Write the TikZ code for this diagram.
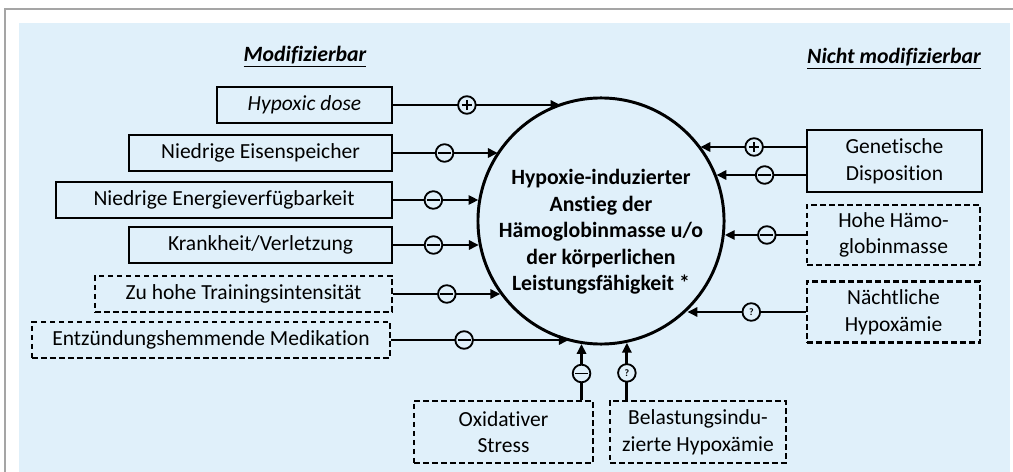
\documentclass[tikz,border=0pt]{standalone}
\usepackage{fontspec}
\setmainfont{Carlito}[Ligatures=NoCommon]
\usetikzlibrary{arrows.meta,calc}

\definecolor{bgblue}{RGB}{224,240,250}
\definecolor{framegray}{RGB}{165,165,165}

\begin{document}
\begin{tikzpicture}[x=0.025cm, y=-0.025cm,
  txt/.style={font=\fontsize{15.3}{19}\selectfont, align=center},
  box/.style={txt, draw, line width=1.9pt, inner sep=0pt, minimum height=0.9cm},
  dbox/.style={box, dash pattern=on 4pt off 2.4pt},
  hub/.style={circle, draw, line width=2.1pt, minimum size=6.15cm, inner sep=0pt},
  hubtxt/.style={font=\fontsize{15.5}{18.8}\selectfont\bfseries, align=center},
  head/.style={font=\fontsize{15.5}{18}\selectfont\bfseries\itshape},
  arr/.style={line width=2pt, -{Triangle[length=7pt,width=6.5pt]}},
  sgn/.style={circle, draw, fill=bgblue, line width=1.3pt, minimum size=0.44cm, inner sep=0pt},
  sgnm/.style={sgn, path picture={\draw[-, line width=1.3pt]
      ([xshift=-0.16cm]path picture bounding box.center) -- ([xshift=0.16cm]path picture bounding box.center);}},
  sgnp/.style={sgn, path picture={\draw[-, line width=1.3pt]
      ([xshift=-0.13cm]path picture bounding box.center) -- ([xshift=0.13cm]path picture bounding box.center)
      ([yshift=-0.13cm]path picture bounding box.center) -- ([yshift=0.13cm]path picture bounding box.center);}},
  sgnq/.style={sgn, font=\fontsize{7}{7}\selectfont\bfseries}
]
  \useasboundingbox (0,0) rectangle (1013,472);

  % Frame and background
  \fill[bgblue] (19,23) rectangle (1010,472);
  \draw[framegray, line width=1.5pt] (5,472) -- (5,9) -- (1013,9);

  % Headings
  \node[head] (modif) at (305,57) {\underline{Modifizierbar}};
  \node[head] (nmodif) at (894,59) {\underline{Nicht modifizierbar}};

  % Central circle
  \node[hub] (hub) at (601,221) {};
  \node[hubtxt] (hubtext) at (601,232) {Hypoxie-induzierter\\Anstieg der\\Hämoglobinmasse u/o\\der körperlichen\\Leistungsfähigkeit *};

  % Modifiable factors (left)
  \node[box, minimum width=4.375cm] (hypox) at (304.5,105) {\itshape Hypoxic dose};
  \node[box, minimum width=6.575cm] (eisen) at (260.5,153) {Niedrige Eisenspeicher};
  \node[box, minimum width=8.4cm] (energie) at (224,200) {Niedrige Energieverfügbarkeit};
  \node[box, minimum width=6.575cm] (krank) at (260.5,245) {Krankheit/Verletzung};
  \node[dbox, minimum width=7.425cm] (training) at (243.5,294) {Zu hohe Trainingsintensität};
  \node[dbox, minimum width=8.95cm] (medik) at (211,340) {Entzündungshemmende Medikation};

  % Non-modifiable factors (right)
  \node[box, minimum width=4.375cm, minimum height=1.55cm] (gen) at (894.5,161) {Genetische\\Disposition};
  \node[dbox, minimum width=4.325cm, minimum height=1.5cm] (hohe) at (893.5,235) {Hohe Hämo-\\globinmasse};
  \node[dbox, minimum width=4.325cm, minimum height=1.525cm] (nacht) at (893.5,312) {Nächtliche\\Hypoxämie};

  % Bottom factors
  \node[dbox, minimum width=4.475cm, minimum height=1.55cm] (oxid) at (503.5,432) {Oxidativer\\Stress};
  \node[dbox, minimum width=4.4cm, minimum height=1.55cm] (belast) at (698,432) {Belastungsindu-\\zierte Hypoxämie};

  % Arrows from the left
  \draw[arr] (hypox.east) -- node[sgnp, pos=.44] (s1) {} (hypox.east -| hub.109);
  \draw[arr] (eisen.east) -- node[sgnm, pos=.49] (s2) {} (eisen.east -| hub.146);
  \draw[arr] (energie.east) -- node[sgnm, pos=.47] (s3) {} (energie.east -| hub.170);
  \draw[arr] (krank.east) -- node[sgnm, pos=.47] (s4) {} (krank.east -| hub.191);
  \draw[arr] (training.east) -- node[sgnm, pos=.5] (s5) {} (training.east -| hub.216);
  \draw[arr] (medik.east) -- node[sgnm, pos=.41] (s6) {} (medik.east -| hub.255);

  % Arrows from the right
  \coordinate (genp) at ($(gen.west)+(0,-14)$);
  \coordinate (genm) at ($(gen.west)+(0,14)$);
  \draw[arr] (genp) -- node[sgnp, pos=.49] (s7) {} (genp -| hub.37);
  \draw[arr] (genm) -- node[sgnm, pos=.46] (s8) {} (genm -| hub.22);
  \draw[arr] (hohe.west) -- node[sgnm, pos=.48] (s9) {} (hohe.west -| hub.354);
  \draw[arr] (nacht.west) -- node[sgnq, pos=.46] (s10) {?} (nacht.west -| hub.314);

  % Arrows from below
  \draw[arr] (oxid.north -| hub.261) -- node[sgnm, pos=.47] (s11) {} (hub.261);
  \draw[arr] (belast.north -| hub.282) -- node[sgnq, pos=.47] (s12) {?} (hub.282);
\end{tikzpicture}
\end{document}
